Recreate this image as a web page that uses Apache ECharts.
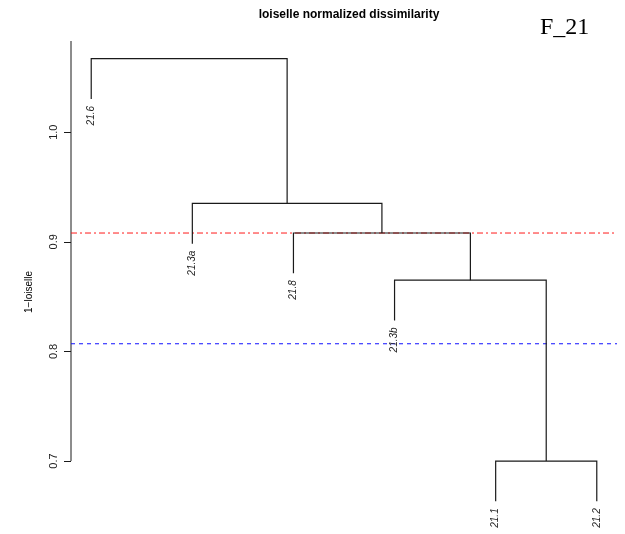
<!DOCTYPE html>
<html>
<head>
<meta charset="utf-8">
<script src="https://cdn.jsdelivr.net/npm/echarts@6/dist/echarts.min.js"></script>
<style>
  html, body { margin: 0; padding: 0; background: #fff; }
  #chart { width: 625px; height: 534px; }
</style>
</head>
<body>
<div id="chart"></div>
<script>
// Leaves in plotting order
const leafLabels = ['21.6', '21.3a', '21.8', '21.3b', '21.1', '21.2'];
// hclust-style merge table: negative = leaf (1-based), positive = earlier merge step
const mergeLeft = [-5, -4, -3, -2, -1];
const mergeRight = [-6, 1, 2, 3, 4];
const mergeHeight = [0.700, 0.865, 0.908, 0.935, 1.067];
// Horizontal cut lines
const cutRed = 0.908;
const cutBlue = 0.807;
// Y axis ticks
const yTicks = [0.7, 0.8, 0.9, 1.0];

const n = leafLabels.length;
const hMin = Math.min(...mergeHeight), hMax = Math.max(...mergeHeight);
const hang = 0.1 * (hMax - hMin);

// Positions of leaves and merge nodes
const leafX = leafLabels.map((_, i) => i + 1);
const leafBottom = new Array(n).fill(0);
const nodeX = [];
function childX(c) { return c < 0 ? leafX[-c - 1] : nodeX[c - 1]; }
mergeHeight.forEach((h, k) => {
  nodeX[k] = (childX(mergeLeft[k]) + childX(mergeRight[k])) / 2;
  [mergeLeft[k], mergeRight[k]].forEach(c => { if (c < 0) leafBottom[-c - 1] = h - hang; });
});
function childY(c) { return c < 0 ? leafBottom[-c - 1] : mergeHeight[c - 1]; }

const branchData = mergeHeight.map((h, k) => [
  childX(mergeLeft[k]), childY(mergeLeft[k]),
  childX(mergeRight[k]), childY(mergeRight[k]), h
]);
const leafData = leafLabels.map((lab, i) => [leafX[i], leafBottom[i], lab]);

// R-style 4% axis expansion
const xMin = 1 - 0.04 * (n - 1), xMax = n + 0.04 * (n - 1);
const allY = mergeHeight.concat(leafBottom);
const yLo = Math.min(...allY), yHi = Math.max(...allY);
const yMin = yLo - 0.04 * (yHi - yLo), yMax = yHi + 0.04 * (yHi - yLo);

const cutData = [
  [cutRed, '#ff1a1a', [6, 3, 2, 3]],
  [cutBlue, '#1010ff', [4, 4]]
];

const chart = echarts.init(document.getElementById('chart'), null, { renderer: 'canvas' });
const lineColor = '#1a1a1a';

chart.setOption({
  animation: false,
  backgroundColor: '#fff',
  title: {
    text: 'loiselle normalized dissimilarity',
    left: 344, top: 4, textAlign: 'center',
    textStyle: { fontFamily: 'Liberation Sans', fontWeight: 'bold', fontSize: 12, color: '#000' }
  },
  graphic: [
    {
      type: 'text', left: 540, top: 16,
      style: { text: 'F_21', fontFamily: 'Liberation Serif', fontSize: 24, fill: '#000' }
    },
    {
      type: 'text', x: 29, y: 292, rotation: Math.PI / 2,
      style: { text: '1\u2212loiselle', align: 'center', verticalAlign: 'middle',
               fontFamily: 'Liberation Sans', fontSize: 10, fill: '#000' }
    }
  ],
  grid: { left: 71, right: 8, top: 41, bottom: 15, containLabel: false },
  xAxis: {
    type: 'value', min: xMin, max: xMax, show: false
  },
  yAxis: {
    type: 'value', min: yMin, max: yMax,
    axisLine: { show: false },
    splitLine: { show: false },
    axisTick: { show: true, length: 7, customValues: yTicks, lineStyle: { color: lineColor, width: 1 } },
    axisLabel: {
      customValues: yTicks, rotate: 90, margin: 12,
      fontFamily: 'Liberation Sans', fontSize: 11, color: '#222',
      formatter: v => v.toFixed(1)
    }
  },
  series: [
    {
      // Axis line, from the first tick to the top of the plot
      type: 'custom', silent: true, clip: false,
      data: [[xMin, yTicks[0], yMax]],
      renderItem: (params, api) => {
        const p1 = api.coord([api.value(0), api.value(1)]);
        const p2 = api.coord([api.value(0), api.value(2)]);
        return { type: 'line', shape: { x1: p1[0], y1: p1[1], x2: p2[0], y2: p2[1] },
                 style: { stroke: lineColor, lineWidth: 1 } };
      }
    },
    {
      // Cut lines across the plot
      type: 'custom', silent: true, clip: false,
      data: cutData.map(d => [d[0]]),
      renderItem: (params, api) => {
        const d = cutData[params.dataIndex];
        const p1 = api.coord([xMin, api.value(0)]);
        const p2 = api.coord([xMax, api.value(0)]);
        return { type: 'line', shape: { x1: p1[0], y1: p1[1], x2: p2[0], y2: p2[1] },
                 style: { stroke: d[1], lineWidth: 1, lineDash: d[2] } };
      }
    },
    {
      // Dendrogram branches
      type: 'custom', silent: true,
      data: branchData,
      renderItem: (params, api) => {
        const a = api.coord([api.value(0), api.value(1)]);
        const b = api.coord([api.value(0), api.value(4)]);
        const c = api.coord([api.value(2), api.value(4)]);
        const d = api.coord([api.value(2), api.value(3)]);
        return { type: 'polyline', shape: { points: [a, b, c, d] },
                 style: { stroke: lineColor, lineWidth: 1.2, fill: null } };
      }
    },
    {
      // Leaf labels
      type: 'custom', silent: true, clip: false,
      data: leafData,
      renderItem: (params, api) => {
        const p = api.coord([api.value(0), api.value(1)]);
        return { type: 'text', x: p[0], y: p[1] + 7, rotation: Math.PI / 2,
                 style: { text: leafData[params.dataIndex][2], align: 'right', verticalAlign: 'middle',
                          fontFamily: 'Liberation Sans', fontStyle: 'italic', fontSize: 10, fill: '#222' } };
      }
    }
  ]
});
</script>
</body>
</html>
